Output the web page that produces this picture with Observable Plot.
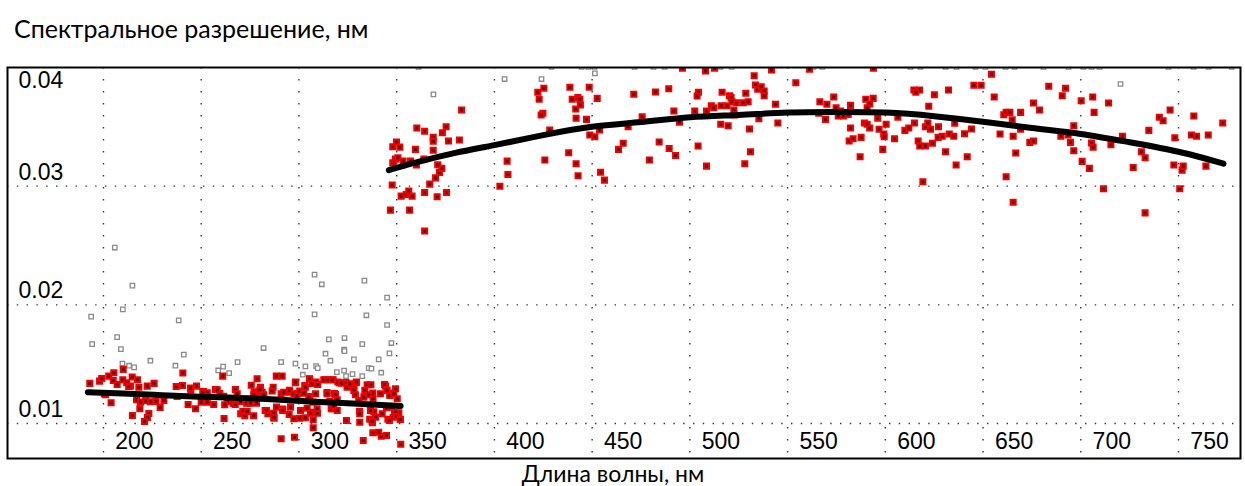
<!DOCTYPE html>
<html><head><meta charset="utf-8">
<script src="https://cdn.jsdelivr.net/npm/d3@7"></script>
<script src="https://cdn.jsdelivr.net/npm/@observablehq/plot@0.6"></script>
<style>
body{margin:0;background:#fff;}
#wrap{position:relative;width:1245px;height:486px;overflow:hidden;}
#chart{position:absolute;left:0;top:0;}
#title{position:absolute;left:14px;top:13px;font-family:Lato,sans-serif;font-size:25px;color:#000;white-space:nowrap;}
#xlabel{position:absolute;left:0;width:1226px;text-align:center;top:459px;font-family:Lato,sans-serif;font-size:23px;color:#000;white-space:nowrap;}
</style></head><body>
<div id="wrap"><div id="chart"></div>
<div id="title">Спектральное разрешение, нм</div>
<div id="xlabel">Длина волны, нм</div></div>
<script>
const xTicks = [200,250,300,350,400,450,500,550,600,650,700,750];
const yTicks = [0.01,0.02,0.03,0.04];

// fitted curves (nm, resolution nm)
const fitLow = [[192,0.01264],[210,0.01253],[230,0.01238],[250,0.01225],[270,0.01215],[290,0.0120],[310,0.01182],[330,0.01166],[352,0.01148]];
const fitHigh = [[346,0.03135],[360,0.0320],[380,0.0328],[400,0.03346],[425,0.0343],[450,0.0350],[475,0.0354],[500,0.0358],[525,0.0360],[550,0.0362],[575,0.03625],[600,0.0362],[625,0.0359],[650,0.03543],[675,0.0349],[700,0.0344],[725,0.0337],[750,0.0329],[773,0.0319]];

// rejected points (grey hollow squares)
const grayPts = [[205.8,0.02483],[214.8,0.02162],[209.9,0.01962],[193.7,0.01901],[238.5,0.01869],[207,0.01728],[194.2,0.01669],[208.9,0.01627],[281.9,0.01636],[308,0.02255],[311.7,0.02173],[333.5,0.02204],[345.1,0.02061],[308,0.0192],[334.5,0.01912],[345.1,0.0183],[315.3,0.01709],[323.3,0.0172],[332.4,0.01669],[347.3,0.01678],[323.1,0.01622],[209.7,0.01504],[213.1,0.01487],[215.7,0.01473],[224,0.01529],[236.8,0.01487],[241.1,0.0158],[258.7,0.01447],[261.2,0.01479],[264.3,0.01425],[268.6,0.01517],[290.9,0.01517],[298.2,0.01504],[302,0.01411],[303.3,0.01481],[308.8,0.01484],[309.6,0.01467],[313.6,0.01588],[316.1,0.01529],[319.4,0.01433],[323.1,0.01445],[323.3,0.0161],[328.1,0.0154],[327.4,0.01416],[332.4,0.01399],[335.7,0.01467],[337.1,0.01462],[340.8,0.0154],[342.1,0.01428],[346.3,0.01591],[324.1,0.01399],
[368.8,0.03774],[405.2,0.03903],[424.1,0.03903],[451.4,0.03951],[720.3,0.03861]];
const grayTopNm = [361.2,429.2,444.6,448.1,451.2,471.7,481.4,487.1,507.5,515.7,521.4,563.2,567.8,612.9,618,630.8,636.4,646.1,651.2,661.5,666.1,680.9,693.7,701.4,705.5,709.6,744.9,757.7,765.4,777.2];
const grayTopVal = 0.04005;

// accepted points, short-wave range
const redLow = [[193,0.01338],[198,0.01357],[199.1,0.0138],[202.7,0.01399],[205.3,0.01428],[210.1,0.01456],[209.9,0.01369],[207,0.01329],[211.9,0.01344],[214.7,0.01391],[217.4,0.01369],[213.8,0.01315],[218.1,0.01306],[222.4,0.01315],[225.9,0.01338],[200.4,0.01251],[203.9,0.01175],[216.9,0.012],[218.9,0.0118],[221.6,0.01192],[224,0.01183],[226.9,0.01186],[229,0.01135],[218.6,0.01124],[223.2,0.01084],[214.8,0.01068],[222.5,0.01051],[221,0.01017],[230.9,0.01194],[237.2,0.01312],[240.4,0.01321],[240.6,0.01425],[237.7,0.01228],[243.3,0.0116],[244.7,0.01281],[247.1,0.01124],[247.6,0.01315],[251.2,0.0127],[253.1,0.01259],[257.3,0.01287],[261,0.01399],[261.5,0.0123],[259.5,0.01253],[261.7,0.01042],[263.3,0.01186],[266.4,0.01169],[267.5,0.01208],[270.2,0.01082],[271.3,0.01104],[272.3,0.01065],[274.5,0.01171],[275.6,0.01323],[277.1,0.01268],[278.6,0.01377],[280.3,0.01306],[281.2,0.01264],[276.8,0.01065],[282.7,0.0111],[284.1,0.01082],[286.8,0.01306],[287.1,0.01087],[287.3,0.01045],[288.4,0.01399],[291.4,0.01399],[290.9,0.01251],[291.7,0.01121],[290.9,0.00871],[295.2,0.01264],[295,0.01076],[297.4,0.0104],[297.7,0.00884],[298.2,0.01344],[299.4,0.01253],[300.8,0.0111],[303,0.01321],[303.3,0.01048],[305.5,0.01374],[305.5,0.01194],[306.4,0.01095],[307.3,0.00964],[308.8,0.01349],[309.5,0.01087],[313.6,0.01369],[314.4,0.01262],[317.5,0.01369],[317.5,0.01124],[318.2,0.01253],[320.7,0.01344],[324.1,0.01346],[324.3,0.01025],[326.4,0.01321],[328.1,0.01301],[329.3,0.01344],[331,0.01104],[331.1,0.01011],[332.9,0.00857],[333.7,0.01279],[334.9,0.01327],[336.8,0.01327],[337.8,0.01256],[336.2,0.01036],[337.6,0.01006],[337.8,0.00922],[338.3,0.01099],[342.1,0.00893],[344.3,0.01315],[346.5,0.01247],[348.2,0.01256],[344.8,0.01133],[345.5,0.01036],[348.2,0.01053],[348.9,0.01093],[351.1,0.0109],[351.8,0.01036],[352.1,0.00825],
[205,0.01363],[212.9,0.01312],[201,0.01242],[244.5,0.01298],[250.8,0.01264],[253.4,0.01228],[253.1,0.0118],[250,0.0118],[256.4,0.0116],[258.2,0.01284],[262,0.01158],[267.5,0.01287],[268.4,0.01251],[267.4,0.0116],[270.1,0.01186],
[277.8,0.01259],[276.9,0.01242],[280,0.01284],[282,0.01242],[286.3,0.01273],[273.2,0.01171],[275.2,0.01171],[278.3,0.01171],[273.5,0.01101],[283.4,0.0111],[287.1,0.01053],[288.5,0.01138],[291.7,0.0111],[292.2,0.01264],[295.2,0.01279],[298.2,0.01349],[297.4,0.01251],[299,0.01236],[300.4,0.01273],[302.5,0.01256],[303.3,0.01306],[305.4,0.01377],[305,0.01228],[306.7,0.01335],[308.5,0.01251],[309.6,0.01329],[307.2,0.0118],[295.7,0.01138],[300.4,0.01045],[304.2,0.01129],[305.9,0.01087],[307.3,0.01031],[309.3,0.01124],[312.7,0.01369],[314.8,0.01369],[317,0.01369],[314.4,0.01251],[315.8,0.01188],[316.5,0.01124],[318.7,0.01245],[319.6,0.012],[319.9,0.01349],[321.6,0.0134],[317.8,0.01143],[319.6,0.0111],[324.6,0.01306],[326,0.01335],[329.4,0.01349],[328.1,0.01279],[328.9,0.01242],[330.6,0.01194],[331.1,0.01082],[333.2,0.01222],[335.7,0.01242],[337.9,0.01208],[336.6,0.0111],[339.2,0.01053],[337.4,0.01019],[341.7,0.01251],[343.8,0.01329],[345.1,0.01279],[346.5,0.01236],[348.5,0.01251],[349.4,0.01293],[350.3,0.01208],[347.2,0.01138],[349.4,0.01095],[349.9,0.01059],[351.9,0.01034],[346.3,0.01025],[340.8,0.00927],[344.8,0.00899],[342.6,0.01082]];

// accepted points, long-wave range
const redHigh = [[347.7,0.03009],[346.8,0.02798],[348,0.03197],[349.4,0.03228],[350.6,0.03239],[348,0.03332],[349.9,0.03372],[351.6,0.03329],[353.3,0.03211],[357.1,0.03211],[360.1,0.03178],[363.9,0.03228],[352.3,0.02916],[354.9,0.0293],[356.2,0.02958],[357.9,0.02916],[356.6,0.02798],[364.3,0.02947],[364.3,0.02623],[366.9,0.03017],[369.9,0.0307],[371.9,0.03116],[373.1,0.0315],[371,0.0318],[370.7,0.0291],[375.5,0.02947],[359.6,0.0331],[360.3,0.0349],[364.3,0.03462],[368.7,0.03411],[368.7,0.03378],[368.7,0.03302],[373.4,0.0345],[375.3,0.03501],[376.5,0.0338],[382.1,0.03389],[383.2,0.03642],[402.8,0.03],[406.5,0.03211],[406.9,0.03099],[422.2,0.03791],[425.3,0.03825],[422.9,0.03732],[424.8,0.03614],[423.9,0.036],[428.3,0.03473],[425.8,0.0322],[438,0.03281],[441.8,0.03189],[442.8,0.03087],[438.6,0.03833],[439.8,0.03732],[442.7,0.03746],[443.7,0.03732],[444,0.03684],[441.6,0.0365],[441.8,0.03572],[447.1,0.03563],[448.5,0.03833],[452.6,0.0374],[448.8,0.03431],[451.4,0.03416],[453.8,0.03473],[454.3,0.03118],[456.3,0.03051],[463.5,0.0331],[465.9,0.03361],[468.4,0.03501],[471.3,0.03774],[475.6,0.03585],[479.3,0.0322],[482.4,0.03794],[484.3,0.03372],[489.2,0.03821],[489.4,0.03318],
[491.8,0.03633],[492.7,0.03259],[494.7,0.03538],[502.5,0.03633],[504.4,0.03791],[503.7,0.0376],[504.2,0.03338],[508.5,0.03633],[508.5,0.03169],[511,0.03678],[512.2,0.03661],[515.8,0.03521],[516,0.03678],[516.5,0.03791],[519,0.03678],[519.6,0.03509],[520.3,0.03762],[521.1,0.03746],[521.6,0.03712],[522.5,0.03642],[522.8,0.036],[523.8,0.03703],[527.3,0.03703],[528.1,0.03189],[528.6,0.03783],[529.8,0.03712],[530.5,0.03481],[531,0.0329],[532.9,0.03931],[533.6,0.03853],[534.7,0.03816],[536.5,0.03838],[538,0.03802],[538,0.03762],[535.3,0.03568],[543.8,0.0369],[545,0.03532],[554.2,0.03872],[565.9,0.03614],[566.5,0.03712],[569.4,0.03563],[570.1,0.0369],[573.6,0.03751],[574.8,0.03661],[575.9,0.03591],[577.1,0.03633],[578.6,0.03591],[581,0.03605],[582.2,0.03681],[582.2,0.0349],[581.5,0.0338],[583.5,0.034],[587.1,0.03248],[587.6,0.03411],[589.3,0.03532],[590.7,0.03521],[592,0.0349],[590,0.03732],[592,0.03692],[593.8,0.0374],[590.7,0.03661],[596.1,0.03572],[596.8,0.03479],[598.7,0.0331],[599.2,0.03439],[599.4,0.03416],[600.4,0.03521],[604.7,0.034],[606.4,0.0358],[610,0.0347],[612,0.0349],[614.9,0.03532],[614.6,0.03811],[617.5,0.03811],[615.6,0.03791],[616.8,0.0338],[617.6,0.03338],[620.5,0.03338],[619.2,0.03037],[620.5,0.03501],[621.7,0.03532],[623.1,0.03479],[622.2,0.03673],[625.1,0.03771],[624.1,0.03361],[627,0.03411],[627.2,0.03501],[629.1,0.0342],[630.8,0.0329],[632.3,0.03811],[632.7,0.03439],
[635,0.0342],[635.5,0.0353],[636.2,0.03178],[640.5,0.03442],[641.9,0.03248],[644.1,0.03481],[645.3,0.0385],[649,0.0385],[654.3,0.03943],[655.7,0.03751],[658.7,0.03439],[660.6,0.03602],[661.8,0.03622],[663.7,0.03622],[664.9,0.0356],[665.4,0.0342],[666.7,0.03279],[669.2,0.03622],[669.2,0.03479],[661.8,0.03079],[665.4,0.02865],[673.9,0.03369],[675.8,0.0338],[675.8,0.03701],[678.9,0.03642],[683.6,0.03842],[690.5,0.03762],[692.2,0.03825],[689.8,0.0342],[693.5,0.03431],[694.7,0.03369],[696.4,0.03509],[696.4,0.03298],[700.2,0.0372],[700.7,0.03209],[704.4,0.0315],[706.1,0.03751],[706.8,0.03622],[705.5,0.03363],[706.3,0.03329],[711.6,0.02978],[714.2,0.03701],[715.4,0.03349],[721.3,0.0342],[726.8,0.03158],[731,0.0329],[732.9,0.03239],[732.9,0.02775],[734.8,0.0347],[740.2,0.0358],[742.1,0.03551],[745.7,0.03642],[747.6,0.03178],[748.1,0.03408],[750.6,0.02978],[751.8,0.03135],[752.4,0.03169],[756.6,0.03431],[757.8,0.03591],[759.2,0.0342],[764,0.03169],[765.2,0.03431],[772.6,0.03532],
[496.2,0.03994],[508,0.03971],[512.6,0.03994],[541.8,0.03979],[561.2,0.03985],[593.9,0.03994]];

const grayAll = grayPts.concat(grayTopNm.map(n => [n, grayTopVal]));
const redAll = redLow.concat(redHigh);
const X = d => d[0], Y = d => d[1];
const labelFont = "'Liberation Sans', Arial, sans-serif";

const chart = Plot.plot({
  width: 1245, height: 486,
  marginTop: 67, marginBottom: 28, marginLeft: 7, marginRight: 5,
  x: {domain: [150.9, 781.7], axis: null},
  y: {domain: [0.00705, 0.04], axis: null},
  style: {background: "transparent", fontFamily: labelFont},
  marks: [
    Plot.gridX(xTicks, {stroke: "#333", strokeOpacity: 1, strokeWidth: 1.4, strokeDasharray: "1.4 10.6"}),
    Plot.gridY(yTicks.slice(0, 3), {stroke: "#333", strokeOpacity: 1, strokeWidth: 1.4, strokeDasharray: "1.4 8.4"}),
    Plot.dot(grayAll, {x: X, y: Y, symbol: "square", r: 2.5, fill: "white", stroke: "#8a8a8a", strokeWidth: 1.3, clip: true}),
    Plot.dot(redAll, {x: X, y: Y, symbol: "square", r: 2.85, fill: "#5c0000", stroke: "#f20000", strokeWidth: 2, clip: true}),
    Plot.line(fitLow, {x: X, y: Y, stroke: "black", strokeWidth: 6, strokeLinecap: "round", curve: "natural"}),
    Plot.line(fitHigh, {x: X, y: Y, stroke: "black", strokeWidth: 6, strokeLinecap: "round", curve: "natural"}),
    Plot.text(xTicks, {x: d => d, text: d => String(d), frameAnchor: "bottom", dx: 31, dy: -10, fontSize: 23, fill: "black"}),
    Plot.text(yTicks.slice(0, 3), {y: d => d, text: d => d.toFixed(2), frameAnchor: "left", textAnchor: "start", dx: 11, dy: -14, fontSize: 23, fill: "black"}),
    Plot.text(yTicks.slice(3), {y: d => d, text: d => d.toFixed(2), frameAnchor: "left", textAnchor: "start", dx: 11, dy: 13, fontSize: 23, fill: "black"}),
    Plot.frame({stroke: "black", strokeWidth: 2})
  ]
});
document.getElementById("chart").appendChild(chart);
</script>
</body></html>
